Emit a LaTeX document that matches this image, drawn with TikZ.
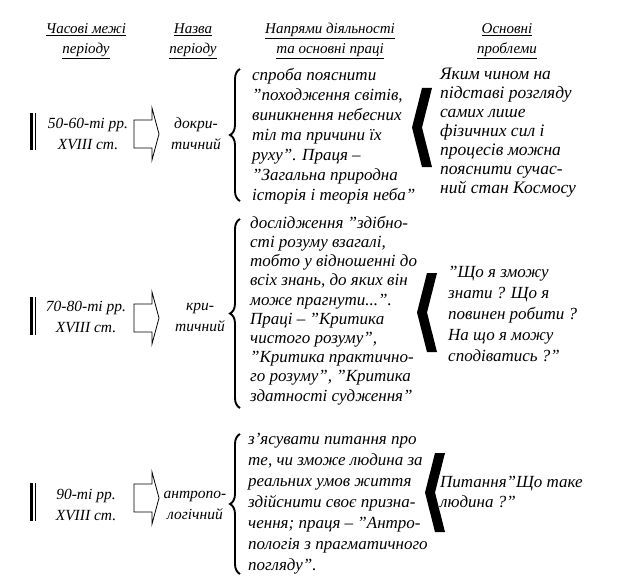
\documentclass[tikz,border=0pt]{standalone}
\usepackage{fontspec}
\setmainfont{Liberation Serif}
\usetikzlibrary{positioning,calc,decorations.pathreplacing}

\tikzset{
  hdr/.style={font=\itshape\fontsize{15}{20}\selectfont, align=center, inner sep=0pt},
  period/.style={font=\itshape\fontsize{15.5}{21}\selectfont, align=center, inner sep=0pt},
  body/.style={font=\itshape\fontsize{17}{20}\selectfont, align=left, anchor=north west, inner sep=0pt},
  curly/.style={decorate, decoration={brace, amplitude=10pt, aspect=0.5}, line width=1.9pt},
  blockarrow/.style={draw, line width=0.8pt, fill=white},
}

\begin{document}
\begin{tikzpicture}[x=1pt,y=-1pt]
	\useasboundingbox (0,0) rectangle (622,586);
	% headings
	\node[hdr] (hdate) at (86,41) {\underline{Часові межі}\\\underline{періоду}};
	\node[hdr] (hname) at (193,41) {\underline{Назва}\\\underline{періоду}};
	\node[hdr] (hwork) at (330,41) {\underline{Напрями діяльності}\\\underline{та основні праці}};
	\node[hdr] (hprob) at (507,41) {\underline{Основні}\\\underline{проблеми}};
	% periods
	\node[period] (date1) at (88,134) {50-60-ті рр.\\XVIII ст.};
	\node[period] (date2) at (86,317) {70-80-ті рр.\\XVIII ст.};
	\node[period] (date3) at (86,505) {90-ті рр.\\XVIII ст.};
	\node[period] (name1) at (196,134) {докри-\\тичний};
	\node[period] (name2) at (200,317) {кри-\\тичний};
	\node[period] (name3) at (195,505) {антропо-\\логічний};
	% double bars
	\foreach \t/\b in {113/150, 297/335, 483/521}{
		\draw[line width=3pt] (31.5,\t) -- (31.5,\b);
		\draw[line width=1.2pt] (35.8,\t) -- (35.8,\b);
	}
	% block arrows
	\foreach \y in {134,318,498}{
		\draw[blockarrow] (134,\y-14) -- (152,\y-14) -- (152,\y-26) -- (159,\y) -- (152,\y+26)
			-- (152,\y+14) -- (134,\y+14) -- cycle;
	}
	% works
	\node[body] (work1) at (252,68) {спроба пояснити\\"походження світів,\\виникнення небесних\\тіл та причини їх\\руху". Праця --\\"Загальна природна\\історія і теорія неба"};
	\node[body, font=\itshape\fontsize{17}{19.2}\selectfont] (work2) at (250,216) {дослідження "здібно-\\сті розуму взагалі,\\тобто у відношенні до\\всіх знань, до яких він\\може прагнути...".\\Праці -- "Критика\\чистого розуму",\\"Критика практично-\\го розуму", "Критика\\здатності судження"};
	\node[body, font=\itshape\fontsize{17}{21}\selectfont] (work3) at (248,433) {з'ясувати питання про\\те, чи зможе людина за\\реальних умов життя\\здійснити своє призна-\\чення; праця -- "Антро-\\пологія з прагматичного\\погляду".};
	\draw[curly] (240,201) -- (240,69);
	\draw[curly] (240,408) -- (240,219);
	\draw[curly] (240,574) -- (240,434);
	% problems
	\node[body, font=\itshape\fontsize{17.5}{19}\selectfont] (prob1) at (440,68) {Яким чином на\\підставі розгляду\\самих лише\\фізичних сил і\\процесів можна\\пояснити сучас-\\ний стан Космосу};
	\node[body, font=\itshape\fontsize{17}{21}\selectfont] (prob2) at (448,266) {"Що я зможу\\знати ? Що я\\повинен робити ?\\На що я можу\\сподіватись ?"};
	\node[body] (prob3) at (440,476) {Питання"Що таке\\людина ?"};
	% chevrons
	\foreach \x/\t/\b in {412/88/167, 417/273/352, 425/453/532}{
		\fill (\x+20,\t) -- (\x+10,\t) -- (\x,{(\t+\b)/2}) -- (\x+10,\b) -- (\x+20,\b) -- (\x+10,{(\t+\b)/2}) -- cycle;
	}
\end{tikzpicture}
\end{document}
